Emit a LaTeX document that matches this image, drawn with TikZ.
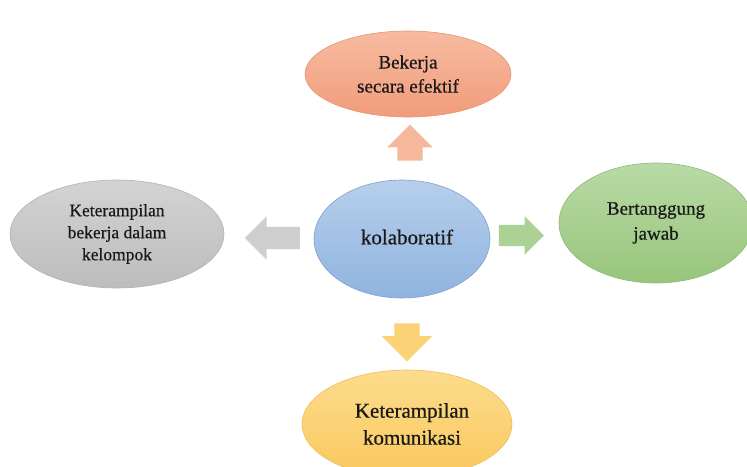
\documentclass[tikz,border=0pt]{standalone}
\usepackage{fontspec}
\setmainfont{Liberation Serif}
\newfontfamily\teks[FakeBold=0.5]{Liberation Serif}
\usetikzlibrary{shapes.geometric,shapes.arrows}

\definecolor{oranyeA}{HTML}{F7BBA0}
\definecolor{oranyeB}{HTML}{F19C7B}
\definecolor{biruA}{HTML}{B6CFEC}
\definecolor{biruB}{HTML}{90B3DF}
\definecolor{abuA}{HTML}{D3D3D3}
\definecolor{abuB}{HTML}{BCBCBC}
\definecolor{hijauA}{HTML}{B9DAA5}
\definecolor{hijauB}{HTML}{97C57B}
\definecolor{kuningA}{HTML}{FDDC8E}
\definecolor{kuningB}{HTML}{F9C85C}

\begin{document}
\begin{tikzpicture}[
  x=1pt, y=-1pt,
  oval/.style={ellipse, inner sep=0pt, align=center, text=black!90,
               line width=0.6pt},
  panah/.style={single arrow, draw=none, inner xsep=0pt},
]
\clip (0,0) rectangle (747,466);
\fill[white] (0,0) rectangle (747,466);

% Elips tengah
\node[oval, minimum width=176pt, minimum height=118pt,
      top color=biruA, bottom color=biruB, draw=biruB!90!black]
  (kolab) at (402,239) {};
\node[font=\teks\fontsize{21}{25}\selectfont, text=black!90] (tKolab) at (407,237) {kolaboratif};

% Elips atas
\node[oval, minimum width=206pt, minimum height=86pt,
      top color=oranyeA, bottom color=oranyeB, draw=oranyeB!95!black,
      font=\teks\fontsize{19}{24}\selectfont]
  (efektif) at (408,74) {Bekerja\\secara efektif};

% Elips kiri
\node[oval, minimum width=214pt, minimum height=108pt,
      top color=abuA, bottom color=abuB, draw=abuB!95!black,
      font=\teks\fontsize{17.5}{22}\selectfont]
  (kelompok) at (117,234) {Keterampilan\\bekerja dalam\\kelompok};

% Elips kanan
\node[oval, minimum width=194pt, minimum height=120pt,
      top color=hijauA, bottom color=hijauB, draw=hijauB!95!black,
      font=\teks\fontsize{19}{25}\selectfont]
  (jawab) at (656,223) {Bertanggung\\jawab};

% Elips bawah
\node[oval, minimum width=210pt, minimum height=108pt,
      top color=kuningA, bottom color=kuningB, draw=kuningB!95!black,
      font=\teks\fontsize{21}{27}\selectfont]
  (komunikasi) at (407,424) {\hspace*{10pt}Keterampilan\\\hspace*{10pt}komunikasi};

% Panah blok
\node[panah, rotate=90, fill=oranyeA!90!oranyeB, minimum height=36pt,
      inner ysep=12.5pt, single arrow head extend=10pt] (pAtas) at (410,149) {};
\node[panah, rotate=180, fill=abuA!80!abuB, minimum height=55pt,
      inner ysep=11pt, single arrow head extend=10.5pt] (pKiri) at (278,238) {};
\node[panah, fill=hijauA!60!hijauB, minimum height=45pt,
      inner ysep=10.5pt, single arrow head extend=8.5pt] (pKanan) at (516,235.5) {};
\node[panah, rotate=-90, fill=kuningA!50!kuningB, minimum height=38pt,
      inner ysep=12.5pt, single arrow head extend=12.5pt] (pBawah) at (407,336) {};
\end{tikzpicture}
\end{document}
